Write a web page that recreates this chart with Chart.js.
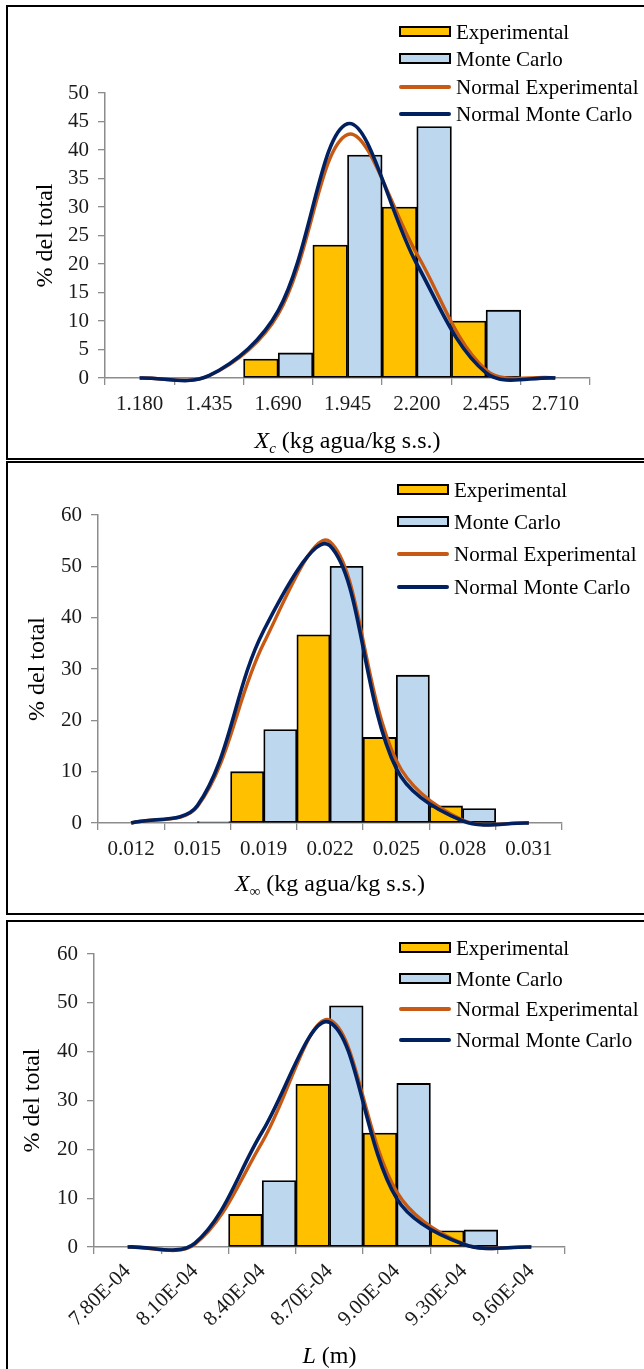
<!DOCTYPE html>
<html>
<head>
<meta charset="utf-8">
<script src="https://cdn.jsdelivr.net/npm/chart.js@4.4.0/dist/chart.umd.min.js"></script>
<style>
html, body { margin: 0; padding: 0; background: #fff; overflow: hidden; }
body { width: 644px; height: 1369px; position: relative; font-family: "Liberation Serif", "Times New Roman", serif; color: #000; }
.panel { position: absolute; left: 6px; width: 660px; border: 2px solid #000; box-sizing: border-box; overflow: hidden; background: #fff; }
.panel canvas { position: absolute; left: 0; top: 0; }
.legend { position: absolute; font-size: 21px; width: 260px; }
.row { position: absolute; left: 0; height: 20px; width: 260px; white-space: nowrap; }
.sw { position: absolute; left: 0; top: 4px; width: 48px; height: 7px; border: 2px solid #000; }
.ln { position: absolute; left: 0; top: 8px; width: 52px; height: 4px; border-radius: 2px; }
.txt { position: absolute; left: 57px; top: 0; line-height: 20px; }
.xt { position: absolute; text-align: center; font-size: 24px; line-height: 24px; white-space: nowrap; }
.xt sub { font-size: 15px; vertical-align: -5px; line-height: 0; }
</style>
</head>
<body>

<div class="panel" style="top:5px;height:455px">
  <canvas id="c1" width="636" height="451"></canvas>
  <div class="legend" id="lg1" style="left:391px;top:0"></div>
  <div class="xt" style="left:97px;width:485px;top:421px"><i>X</i><sub><i>c</i></sub> (kg agua/kg s.s.)</div>
</div>

<div class="panel" style="top:461px;height:454px">
  <canvas id="c2" width="636" height="450"></canvas>
  <div class="legend" id="lg2" style="left:389px;top:0"></div>
  <div class="xt" style="left:90px;width:464px;top:408px"><i>X</i><sub>∞</sub> (kg agua/kg s.s.)</div>
</div>

<div class="panel" style="top:920px;height:460px">
  <canvas id="c3" width="636" height="456"></canvas>
  <div class="legend" id="lg3" style="left:391px;top:0"></div>
  <div class="xt" style="left:86px;width:471px;top:421px"><i>L</i> (m)</div>
</div>

<script>
// Panel 1: Xc
const labelsXc = ['1.180', '1.435', '1.690', '1.945', '2.200', '2.455', '2.710'];
const expXc = [0, 0, 3.33, 23.33, 30, 10, 0];
const mcXc = [0, 0, 4.4, 39.1, 44.1, 11.9, 0];
const normExpXc = [0, 0.4, 11.2, 42.7, 21.8, 1.4, 0];
const normMcXc = [0, 0.4, 11.8, 44.6, 20.0, 0.9, 0];

// Panel 2: X infinity
const labelsXinf = ['0.012', '0.015', '0.019', '0.022', '0.025', '0.028', '0.031'];
const expXinf = [0, 0, 10, 36.67, 16.67, 3.33, 0];
const mcXinf = [0, 0.3, 18.2, 50.0, 28.8, 2.8, 0];
const normExpXinf = [0, 3.2, 35, 54.8, 12.2, 0.6, 0];
const normMcXinf = [0, 3.4, 37.5, 54, 10.6, 0.4, 0];

// Panel 3: L
const labelsL = ['7.80E-04', '8.10E-04', '8.40E-04', '8.70E-04', '9.00E-04', '9.30E-04', '9.60E-04'];
const expL = [0, 0, 6.67, 33.33, 23.33, 3.33, 0];
const mcL = [0, 0, 13.6, 49.4, 33.5, 3.5, 0];
const normExpL = [0, 0.6, 21.5, 46.5, 11.3, 0.6, 0];
const normMcL = [0, 0.8, 23.6, 46, 9.9, 0.5, 0];

const legendNames = ['Experimental', 'Monte Carlo', 'Normal Experimental', 'Normal Monte Carlo'];

const YELLOW = '#FFC000';
const BLUE = '#BDD7EE';
const ORANGE = '#C65A14';
const NAVY = '#002060';
const AXIS = '#8C8C8C';

Chart.defaults.font.family = '"Liberation Serif", "Times New Roman", serif';
Chart.defaults.color = '#1a1a1a';

function buildLegend(id, rows) {
    const el = document.getElementById(id);
    const kinds = [
        { cls: 'sw', color: YELLOW },
        { cls: 'sw', color: BLUE },
        { cls: 'ln', color: ORANGE },
        { cls: 'ln', color: NAVY }
    ];
    legendNames.forEach((name, i) => {
        const row = document.createElement('div');
        row.className = 'row';
        row.style.top = (rows[i] - 10) + 'px';
        const mark = document.createElement('span');
        mark.className = kinds[i].cls;
        mark.style.background = kinds[i].color;
        const txt = document.createElement('span');
        txt.className = 'txt';
        txt.textContent = name;
        row.appendChild(mark);
        row.appendChild(txt);
        el.appendChild(row);
    });
}

function makeChart(id, labels, exp, mc, nExp, nMc, box) {
    const ctx = document.getElementById(id).getContext('2d');
    const canvasW = 636;
    const canvasH = ctx.canvas.height;
    new Chart(ctx, {
        type: 'bar',
        data: {
            labels: labels,
            datasets: [
                {
                    type: 'line', label: 'Normal Monte Carlo', data: nMc,
                    borderColor: NAVY, borderWidth: 3.6, pointRadius: 0,
                    tension: 0.35, fill: false, order: 0, clip: false
                },
                {
                    type: 'line', label: 'Normal Experimental', data: nExp,
                    borderColor: ORANGE, borderWidth: 3.4, pointRadius: 0,
                    tension: 0.35, fill: false, order: 1, clip: false
                },
                {
                    label: 'Experimental', data: exp, backgroundColor: YELLOW,
                    borderColor: '#000', borderWidth: 1.8, borderSkipped: false,
                    categoryPercentage: 1, barPercentage: 1, order: 2
                },
                {
                    label: 'Monte Carlo', data: mc, backgroundColor: BLUE,
                    borderColor: '#000', borderWidth: 1.8, borderSkipped: false,
                    categoryPercentage: 1, barPercentage: 1, order: 2
                }
            ]
        },
        options: {
            responsive: false,
            animation: false,
            devicePixelRatio: 1,
            layout: { padding: { left: 0, top: box.top, right: canvasW - box.right, bottom: 0 } },
            elements: { line: { capBezierPoints: false } },
            plugins: { legend: { display: false }, tooltip: { enabled: false } },
            scales: {
                x: {
                    type: 'category',
                    offset: true,
                    grid: { display: true, offset: true, drawOnChartArea: false, drawTicks: true, tickLength: 7, color: AXIS, lineWidth: 1.3 },
                    border: { display: true, color: AXIS, width: 1.5 },
                    ticks: {
                        autoSkip: false,
                        minRotation: box.rot, maxRotation: box.rot,
                        padding: box.xpad,
                        font: { size: 21 }
                    },
                    afterFit: (s) => { s.height = canvasH - box.bottom; }
                },
                y: {
                    min: 0, max: box.ymax,
                    grid: { display: true, drawOnChartArea: false, drawTicks: true, tickLength: 7, color: AXIS, lineWidth: 1.3 },
                    border: { display: true, color: AXIS, width: 1.5 },
                    ticks: { stepSize: box.step, padding: 9, font: { size: 21 } },
                    title: {
                        display: true, text: '% del total',
                        font: { size: 24 }, color: '#000',
                        padding: { top: box.tpad, bottom: 0 }
                    },
                    afterFit: (s) => { s.width = box.left; }
                }
            }
        }
    });
}

makeChart('c1', labelsXc, expXc, mcXc, normExpXc, normMcXc,
    { left: 97, right: 582, top: 86, bottom: 371, ymax: 50, step: 5, rot: 0, xpad: 7, tpad: 23 });
makeChart('c2', labelsXinf, expXinf, mcXinf, normExpXinf, normMcXinf,
    { left: 90, right: 554, top: 52, bottom: 360, ymax: 60, step: 10, rot: 0, xpad: 7, tpad: 15 });
makeChart('c3', labelsL, expL, mcL, normExpL, normMcL,
    { left: 86, right: 557, top: 32, bottom: 325, ymax: 60, step: 10, rot: 45, xpad: 5, tpad: 10 });

buildLegend('lg1', [24.7, 52.2, 80.3, 107.3]);
buildLegend('lg2', [26.7, 59, 91, 123.7]);
buildLegend('lg3', [25.5, 56.7, 87.3, 118]);
</script>
</body>
</html>
